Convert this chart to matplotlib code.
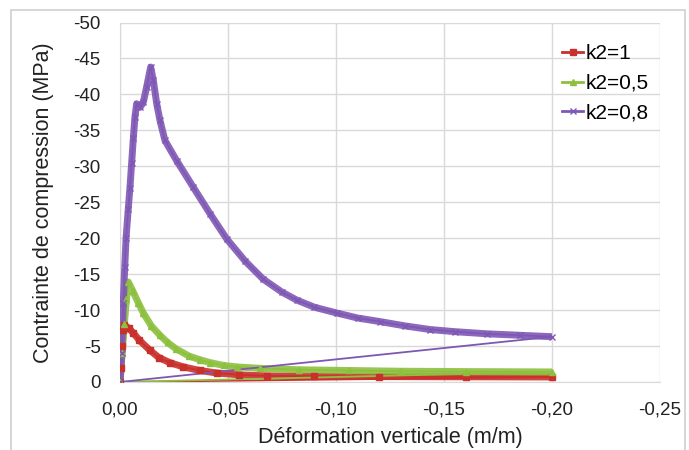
import matplotlib
matplotlib.use("Agg")
import matplotlib.pyplot as plt
from matplotlib.ticker import FuncFormatter
from matplotlib.patches import Rectangle

plt.rcParams['font.family'] = ['Liberation Sans', 'DejaVu Sans']

# k2 = 0,8 (purple)
strain_08 = [0, -0.0008, -0.0015, -0.0022, -0.0028, -0.0038, -0.0046, -0.0054, -0.0062,
             -0.0069, -0.0077, -0.0085, -0.0093, -0.0108, -0.0123, -0.0142, -0.0154,
             -0.0170, -0.0185, -0.0208, -0.0262, -0.0339, -0.0417, -0.0494, -0.058,
             -0.0663, -0.075, -0.0818, -0.090, -0.1003, -0.110, -0.1204, -0.132,
             -0.1435, -0.155, -0.170, -0.185, -0.200, 0]
stress_08 = [0, -4, -11, -16, -20, -24, -27, -30.5, -34,
             -36.8, -38.7, -38.5, -38.2, -38.9, -41, -43.8, -42,
             -38.7, -36.4, -33.6, -30.8, -27.1, -23.4, -19.9, -16.8,
             -14.3, -12.5, -11.4, -10.4, -9.6, -8.9, -8.4, -7.8,
             -7.3, -7.0, -6.7, -6.5, -6.3, 0]

# k2 = 0,5 (green)
strain_05 = [0, -0.001, -0.002, -0.003, -0.0039, -0.006, -0.0085, -0.0108, -0.0145,
             -0.0185, -0.022, -0.026, -0.032, -0.037, -0.0417, -0.048, -0.054,
             -0.065, -0.083, -0.106, -0.13, -0.16, -0.2, 0]
stress_05 = [0, -4, -8, -11.5, -13.9, -12.6, -11, -9.6, -7.8,
             -6.5, -5.5, -4.6, -3.6, -3.1, -2.7, -2.3, -2.1,
             -1.9, -1.7, -1.6, -1.5, -1.45, -1.4, 0]

# k2 = 1 (red)
strain_1 = [0, -0.0005, -0.001, -0.0015, -0.002, -0.004, -0.0062, -0.009, -0.0139,
            -0.018, -0.023, -0.0293, -0.037, -0.0448, -0.055, -0.068, -0.09,
            -0.12, -0.16, -0.2, 0]
stress_1 = [0, -2, -5, -7.2, -7.9, -7.5, -6.8, -5.8, -4.4,
            -3.4, -2.7, -2.1, -1.6, -1.25, -1.0, -0.85, -0.8,
            -0.75, -0.72, -0.7, 0]

series = [
    ("k2=1", strain_1, stress_1, "#C9302C", "s"),
    ("k2=0,5", strain_05, stress_05, "#8DC03F", "^"),
    ("k2=0,8", strain_08, stress_08, "#7E57B4", "x"),
]

x_ticks = [0, -0.05, -0.10, -0.15, -0.20, -0.25]
y_ticks = [0, -5, -10, -15, -20, -25, -30, -35, -40, -45, -50]

fig = plt.figure(figsize=(6.89, 4.5), dpi=100)
ax = fig.add_axes([120 / 689, 1 - 382 / 450, 540 / 689, 359.5 / 450])

# figure frame
fig.patches.append(Rectangle((11 / 689, -0.01), (685 - 11) / 689, 1 - 10 / 450 + 0.01,
                             transform=fig.transFigure, fill=False,
                             edgecolor="#cfcfcf", linewidth=1.2))

handles = []
for label, xs, ys, color, mk in series:
    # thin full path (including return to origin)
    ax.plot(xs, ys, color=color, linewidth=1.3, zorder=3)
    # dense-looking loading curve
    ax.plot(xs[:-1], ys[:-1], color=color, linewidth=5.0, alpha=0.9,
            solid_capstyle='butt', zorder=3)
    ax.plot(xs[:-1], ys[:-1], linestyle='none', marker=mk, markersize=4,
            color=color, markeredgewidth=1.0, zorder=4)
    h, = ax.plot([], [], color=color, linewidth=2.0, marker=mk, markersize=4,
                 markeredgewidth=1.0, label=label)
    handles.append(h)

ax.set_xlim(0, -0.25)
ax.set_ylim(0, -50)
ax.set_xticks(x_ticks)
ax.set_yticks(y_ticks)


def fmt_x(v, pos):
    if abs(v) < 1e-12:
        return "0,00"
    return f"{v:.2f}".replace('.', ',')


def fmt_y(v, pos):
    if abs(v) < 1e-12:
        return "0"
    return f"{v:.0f}"


ax.xaxis.set_major_formatter(FuncFormatter(fmt_x))
ax.yaxis.set_major_formatter(FuncFormatter(fmt_y))
ax.tick_params(axis='both', length=0, labelsize=13.5, colors="#222222")
ax.tick_params(axis='y', pad=14)
ax.tick_params(axis='x', pad=14)

ax.grid(True, color="#d9d9d9", linewidth=1.0)
ax.set_axisbelow(True)
for s in ax.spines.values():
    s.set_visible(False)
ax.spines['left'].set_visible(True)
ax.spines['left'].set_color("#d9d9d9")
ax.spines['bottom'].set_visible(True)
ax.spines['bottom'].set_color("#d9d9d9")

ax.set_xlabel("Déformation verticale (m/m)", fontsize=15.5, color="#222222", labelpad=6)
ax.set_ylabel("Contrainte de compression (MPa)", fontsize=15.5, color="#222222", labelpad=14)

leg = ax.legend(handles=handles, loc='upper left', bbox_to_anchor=(0.80, 0.968),
                frameon=False, fontsize=15, handlelength=1.0, handletextpad=0.1,
                labelspacing=0.5, borderpad=0)

fig.savefig("out.png", dpi=100)
